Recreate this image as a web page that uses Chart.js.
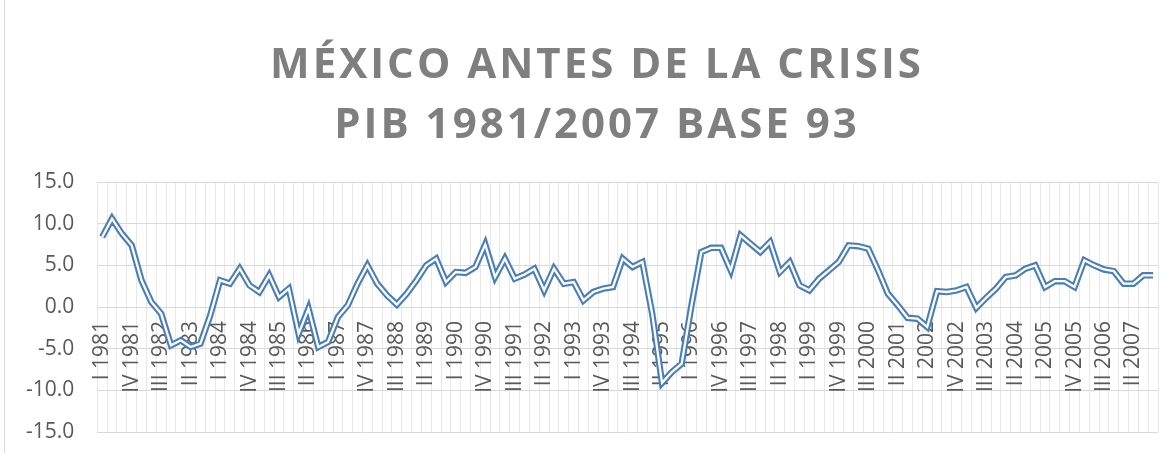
<!DOCTYPE html>
<html>
<head>
<meta charset="utf-8">
<title>México antes de la crisis</title>
<script src="https://cdn.jsdelivr.net/npm/chart.js@4/dist/chart.umd.min.js"></script>
<style>
  html, body { margin: 0; padding: 0; background: #fff; }
  #wrap { width: 1171px; height: 453px; }
</style>
</head>
<body>
<div id="wrap"><canvas id="pibChart" width="1171" height="453"></canvas></div>
<script>
// chart data
const titleLines = ['MÉXICO ANTES DE LA CRISIS', 'PIB 1981/2007 BASE 93'];
const quarters = ['I', 'II', 'III', 'IV'];
const years = [1981, 1982, 1983, 1984, 1985, 1986, 1987, 1988, 1989, 1990, 1991, 1992, 1993, 1994,
               1995, 1996, 1997, 1998, 1999, 2000, 2001, 2002, 2003, 2004, 2005, 2006, 2007];
// PIB, variación anual por trimestre (%)
const pib = [
   8.4, 10.6,  8.8,  7.4,   // 1981
   3.2,  0.6, -0.8, -4.6,   // 1982
  -4.0, -4.8, -4.4, -1.0,   // 1983
   3.2,  2.8,  4.6,  2.6,   // 1984
   1.8,  3.8,  1.2,  2.2,   // 1985
  -3.2, -0.2, -4.8, -4.2,   // 1986
  -1.2,  0.2,  2.8,  5.0,   // 1987
   2.8,  1.4,  0.3,  1.6,   // 1988
   3.2,  5.0,  5.8,  3.0,   // 1989
   4.2,  4.1,  4.8,  7.5,   // 1990
   3.6,  5.8,  3.4,  3.9,   // 1991
   4.6,  2.0,  4.6,  2.8,   // 1992
   3.0,  0.8,  1.8,  2.2,   // 1993
   2.4,  5.8,  4.8,  5.4,   // 1994
  -0.8, -9.1, -7.8, -6.8,   // 1995
   0.2,  6.6,  7.1,  7.1,   // 1996
   4.4,  8.6,  7.6,  6.6,   // 1997
   7.8,  4.2,  5.4,  2.6,   // 1998
   2.0,  3.4,  4.4,  5.4,   // 1999
   7.4,  7.3,  7.0,  4.4,   // 2000
   1.6,  0.2, -1.3, -1.4,   // 2001
  -2.4,  1.9,  1.8,  2.0,   // 2002
   2.4, -0.1,  1.1,  2.2,   // 2003
   3.6,  3.8,  4.6,  5.0,   // 2004
   2.4,  3.1,  3.1,  2.4,   // 2005
   5.6,  5.0,  4.5,  4.3,   // 2006
   2.8,  2.8,  3.8,  3.8    // 2007
];
const yMin = -15;
const yMax = 15;
const yStep = 5;

const labels = [];
years.forEach(y => quarters.forEach(q => labels.push(q + ' ' + y)));

const titlePlugin = {
  id: 'excelTitle',
  beforeDraw(chart) {
    const ctx = chart.ctx;
    ctx.save();
    ctx.fillStyle = '#ffffff';
    ctx.fillRect(0, 0, chart.width, chart.height);
    // chart area border (left edge)
    ctx.strokeStyle = '#d9d9d9';
    ctx.lineWidth = 1;
    ctx.beginPath();
    ctx.moveTo(4.5, 0);
    ctx.lineTo(4.5, chart.height);
    ctx.stroke();
    ctx.font = 'bold 42px "Open Sans"';
    ctx.fillStyle = '#7f7f7f';
    ctx.textAlign = 'center';
    ctx.textBaseline = 'alphabetic';
    ctx.letterSpacing = '3px';
    ctx.fillText(titleLines[0], 597, 78);
    ctx.fillText(titleLines[1], 597, 138);
    ctx.restore();
  }
};

// keep the plot area where the layout padding puts it
const noOverflow = scale => {
  scale.paddingLeft = 0;
  scale.paddingRight = 0;
  scale.paddingTop = 0;
  scale.paddingBottom = 0;
};

const ctx = document.getElementById('pibChart').getContext('2d');
new Chart(ctx, {
  type: 'line',
  data: {
    labels: labels,
    datasets: [{
      label: 'PIB (centro)',
      data: pib,
      borderColor: '#ffffff',
      borderWidth: 2.3,
      pointRadius: 0,
      tension: 0,
      borderJoinStyle: 'miter'
    }, {
      label: 'PIB',
      data: pib,
      borderColor: '#4a7ebb',
      borderWidth: 6.5,
      pointRadius: 0,
      tension: 0,
      borderJoinStyle: 'miter'
    }]
  },
  options: {
    responsive: false,
    animation: false,
    layout: {
      padding: { top: 182, left: 3, right: 13, bottom: 21 }
    },
    plugins: {
      legend: { display: false },
      title: { display: false },
      tooltip: { enabled: false }
    },
    scales: {
      x: {
        position: { y: 0 },
        offset: true,
        afterFit: noOverflow,
        grid: {
          offset: true,
          color: '#e8e8e8',
          drawTicks: false
        },
        border: { color: '#d9d9d9' },
        ticks: {
          autoSkip: false,
          maxRotation: 90,
          minRotation: 90,
          padding: 14,
          color: '#595959',
          font: { family: '"Open Sans"', size: 21 },
          callback: function (value, index) {
            return index % 3 === 0 ? this.getLabelForValue(value) : '';
          }
        }
      },
      y: {
        min: yMin,
        max: yMax,
        afterFit: noOverflow,
        grid: {
          color: '#d9d9d9',
          drawTicks: false
        },
        border: { display: false },
        ticks: {
          stepSize: yStep,
          padding: 23,
          color: '#595959',
          font: { family: '"Open Sans"', size: 21 },
          callback: v => v.toFixed(1)
        }
      }
    }
  },
  plugins: [titlePlugin]
});
</script>
</body>
</html>
